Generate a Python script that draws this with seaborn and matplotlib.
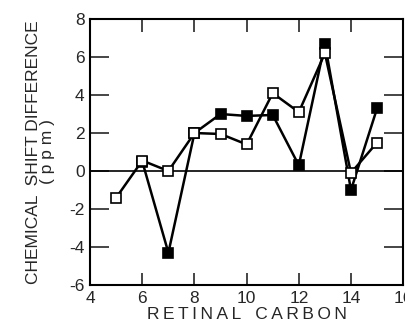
import matplotlib
matplotlib.use("Agg")
import matplotlib.pyplot as plt
import seaborn as sns
import pandas as pd

open_x = [5, 6, 7, 8, 9, 10, 11, 12, 13, 14, 15]
open_y = [-1.4, 0.55, 0.0, 2.0, 1.95, 1.4, 4.1, 3.1, 6.2, -0.1, 1.5]
filled_x = [6, 7, 8, 9, 10, 11, 12, 13, 14, 15]
filled_y = [0.5, -4.3, 2.0, 3.0, 2.9, 2.95, 0.3, 6.7, -1.0, 3.3]
xticks = [4, 6, 8, 10, 12, 14, 16]
yticks = [-6, -4, -2, 0, 2, 4, 6, 8]

sns.set_style("ticks")
plt.rcParams['font.family'] = ['Liberation Sans', 'DejaVu Sans']

fig = plt.figure(figsize=(4.06, 3.28), dpi=100)
ax = fig.add_axes([0.222, 0.131, 0.771, 0.811])

df_f = pd.DataFrame({"x": filled_x, "y": filled_y})
df_o = pd.DataFrame({"x": open_x, "y": open_y})

ax.axhline(0, color="black", lw=1.2, zorder=1)
sns.lineplot(data=df_f, x="x", y="y", ax=ax, color="black", lw=1.8,
             marker="s", markersize=7.5, markerfacecolor="black",
             markeredgecolor="black", markeredgewidth=1.2, zorder=3)
sns.lineplot(data=df_o, x="x", y="y", ax=ax, color="black", lw=1.8,
             marker="s", markersize=7.5, markerfacecolor="white",
             markeredgecolor="black", markeredgewidth=1.2, zorder=4)

ax.set_xlim(4, 16)
ax.set_ylim(-6, 8)
ax.set_xticks(xticks)
ax.set_yticks(yticks)
ax.set_xticklabels([str(t) for t in xticks], fontsize=12.5)
ax.set_yticklabels([str(t) for t in yticks], fontsize=12.5)
ax.tick_params(axis="x", direction="in", length=9, width=1.2, top=True, pad=4)
ax.tick_params(axis="y", direction="in", length=14, width=1.2, right=True, pad=4)
for s in ax.spines.values():
    s.set_linewidth(1.5)
    s.set_color("black")

ts = "\u2009"
xlab = ts.join("RETINAL") + "   " + ts.join("CARBON")
ax.set_xlabel(xlab, fontsize=12.5, labelpad=1)
ax.set_ylabel("CHEMICAL  SHIFT DIFFERENCE\n( p p m )", fontsize=12.5, labelpad=10,
              linespacing=0.95)

fig.savefig("out.png", dpi=100)
